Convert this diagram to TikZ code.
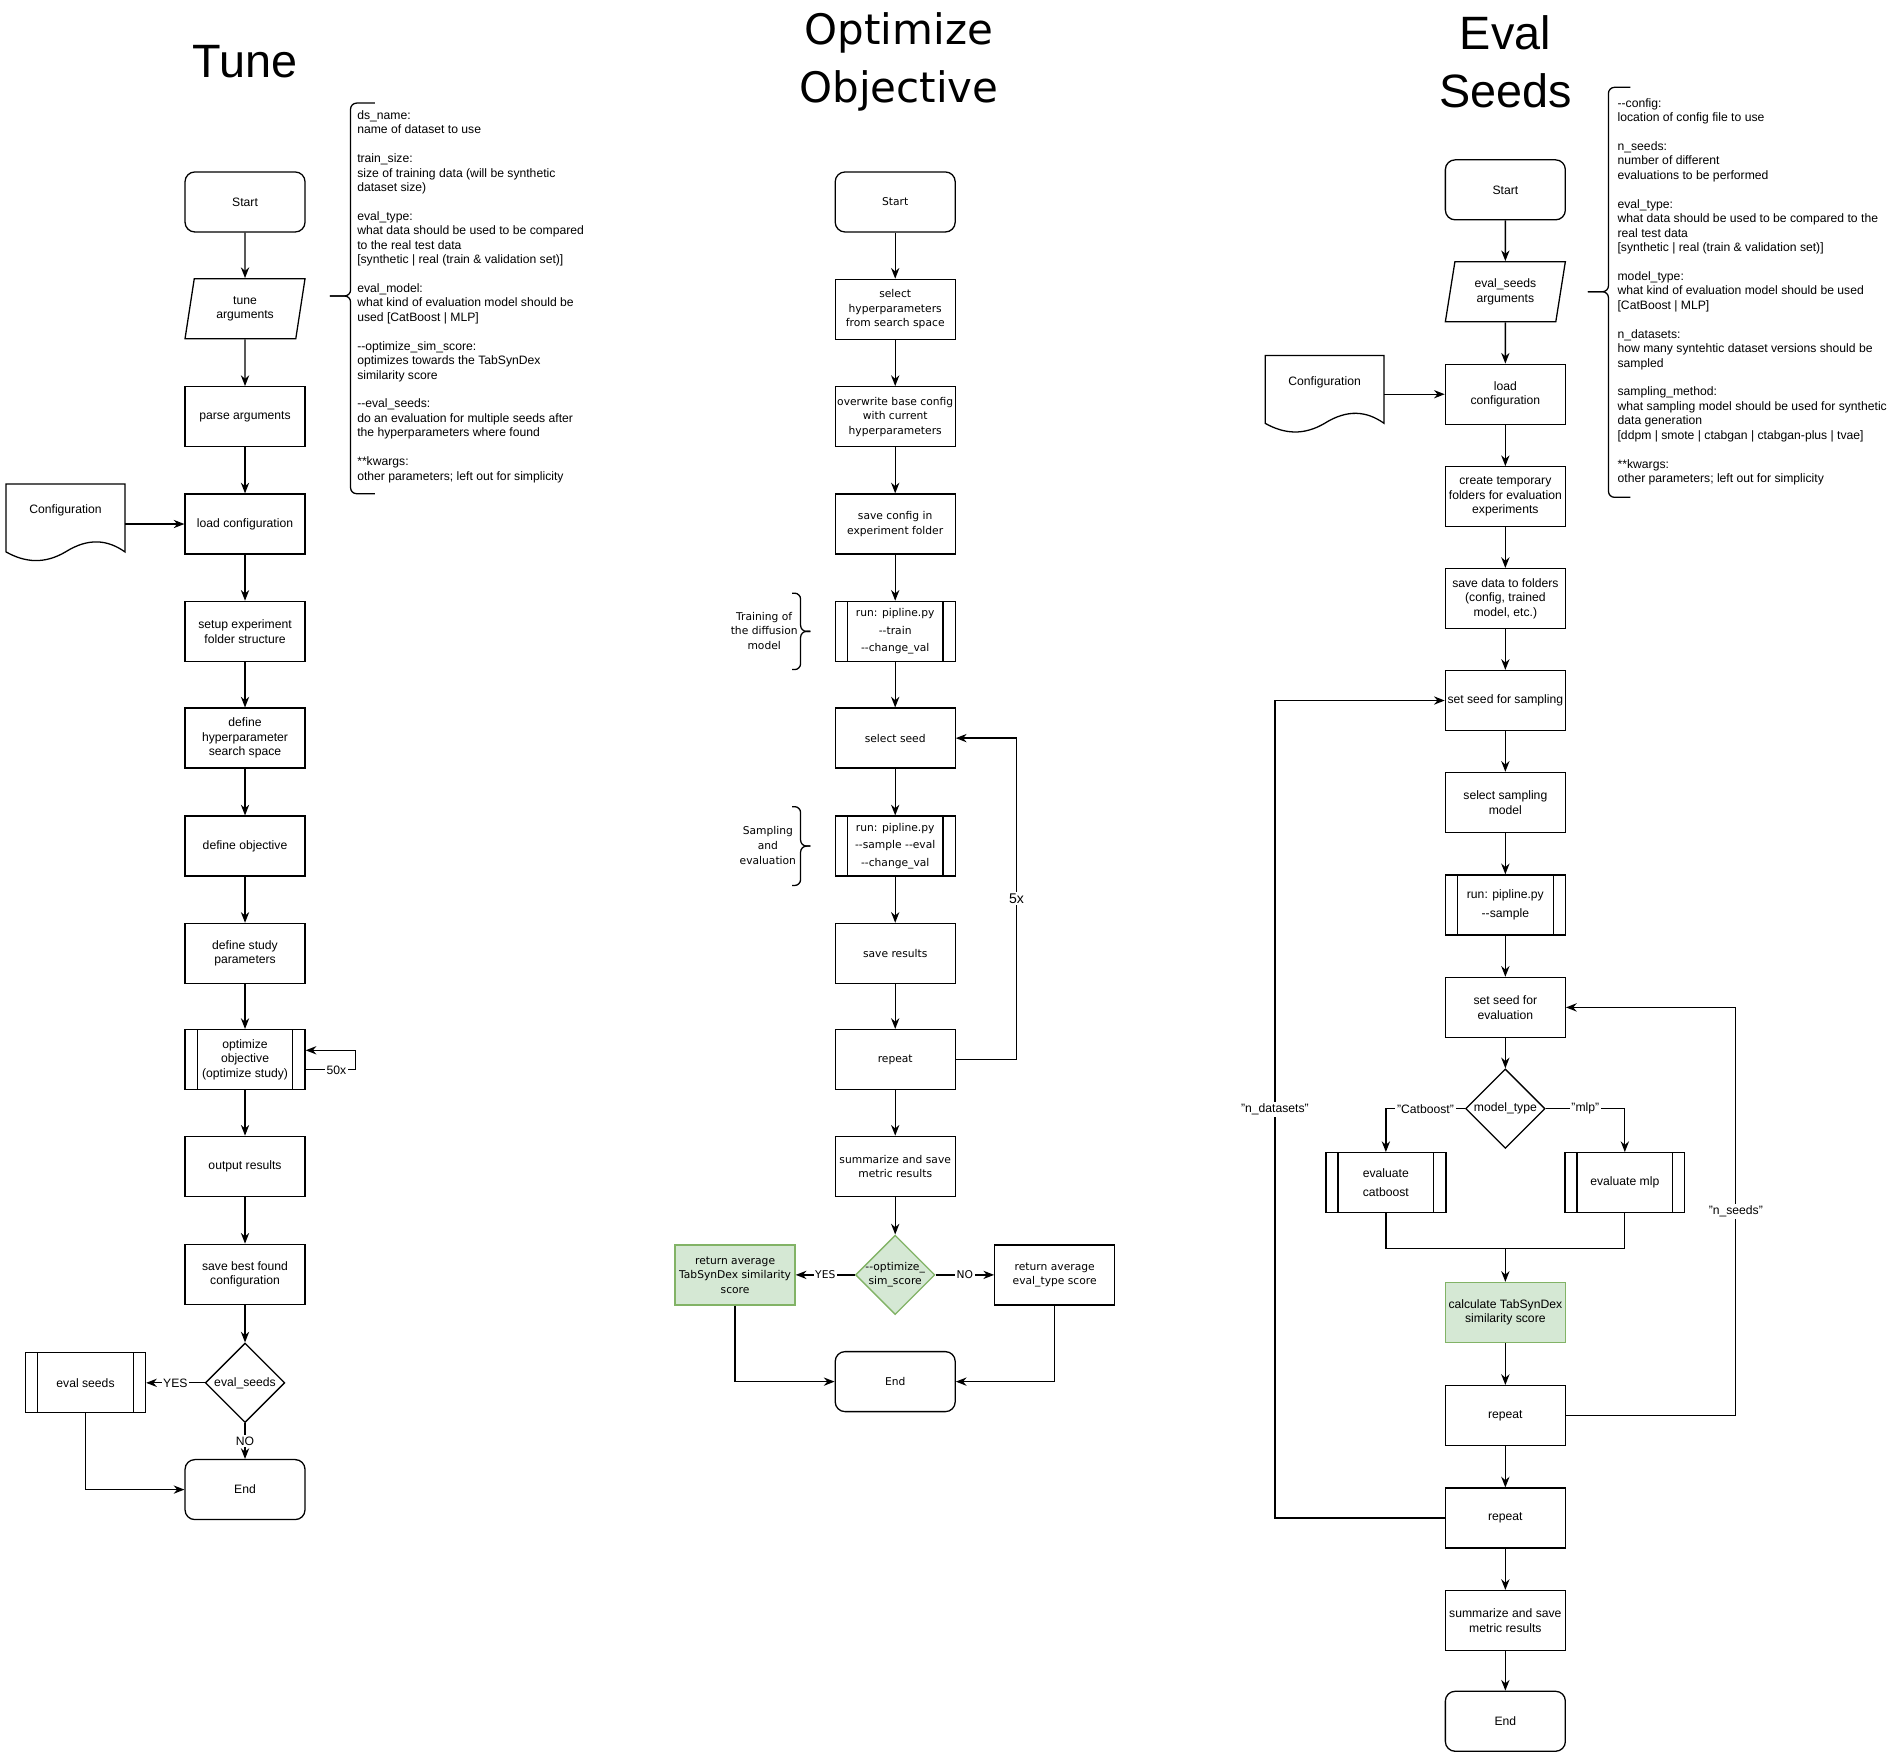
\documentclass[tikz,border=0pt]{standalone}
\usepackage{fontspec}
\setmainfont{Liberation Sans}
\newfontfamily\optfont{DejaVu Sans}
\usepackage{tikz}
\usetikzlibrary{shapes.geometric,arrows.meta}
\definecolor{dgreen}{HTML}{D5E8D4}
\definecolor{dgreenline}{HTML}{82B366}

% document shape, given by its top left corner
\newcommand\docshape[2]{%
  \draw[shift={(#1,#2)}] (0,0) -- (98,0) -- (98,56) .. controls (84,46) and (68,44) .. (49,56)
    .. controls (32,66) and (16,65) .. (0,56) -- cycle;}

\begin{document}
\begin{tikzpicture}[x=0.024875cm, y=-0.024875cm, line width=0.75pt,
    >={Stealth[length=2.2mm,width=1.7mm]},
    txt/.style={font=\fontsize{7.1}{8.5}\selectfont},
    mtxt/.style={font=\optfont\fontsize{6.25}{8.5}\selectfont},
    mrun/.style={font=\optfont\fontsize{6.25}{10.3}\selectfont},
    run/.style={font=\fontsize{7.1}{10.6}\selectfont},
    base/.style={draw, minimum width=2.46cm, minimum height=1.23cm, align=center, inner sep=1pt, txt},
    procbox/.style={base},
    termbox/.style={base, rounded corners=0.2cm},
    iobox/.style={base, trapezium, trapezium left angle=72, trapezium right angle=108, trapezium stretches body},
    subproc/.style={base, path picture={
        \draw ([xshift=0.25cm]path picture bounding box.north west) -- ([xshift=0.25cm]path picture bounding box.south west);
        \draw ([xshift=-0.25cm]path picture bounding box.north east) -- ([xshift=-0.25cm]path picture bounding box.south east);}},
    decision/.style={draw, diamond, minimum width=1.63cm, minimum height=1.63cm, inner sep=0pt, txt},
    greenbox/.style={fill=dgreen, draw=dgreenline},
    note/.style={align=left, anchor=west, inner sep=0pt, font=\fontsize{7.1}{8.42}\selectfont},
    lbl/.style={fill=white, inner sep=1pt, txt},
    curly/.style={rounded corners=3.5pt},
    title/.style={align=center, font=\fontsize{27.3}{34}\selectfont}]
\useasboundingbox (0,0) rectangle (1568,1450.5);

% ---------------- Tune
\node[title] (ttA) at (202,51) {Tune};
\node[termbox] (startA) at (202,166.5) {Start};
\node[iobox] (argA) at (202,254.5) {tune\\arguments};
\foreach \n/\y/\t in {paA/343.5/parse arguments, lcA/432/load configuration,
    sesA/520.5/{setup experiment\\folder structure}, dhA/608.5/{define\\hyperparameter\\search space},
    doA/697.5/define objective, dsA/786/{define study\\parameters}, orA/961.5/output results,
    sbA/1050.5/{save best found\\configuration}}
  \node[procbox] (\n) at (202,\y) {\t};
\node[subproc] (optA) at (202,873.5) {optimize\\objective\\(optimize study)};
\node[decision] (esA) at (202,1140) {eval\_seeds};
\node[subproc] (evsA) at (70.5,1140) {eval seeds};
\node[termbox] (endA) at (202,1228) {End};
\docshape{5}{399}
\node[txt] (cfgA) at (54,421) {Configuration};
\coordinate (cfgAr) at (103,432);

\foreach \a/\b in {startA/argA, argA/paA, paA/lcA, lcA/sesA, sesA/dhA, dhA/doA, doA/dsA, dsA/optA,
    optA/orA, orA/sbA, sbA/esA}
  \draw[->] (\a) -- (\b);
\draw[->] (cfgAr) -- (lcA);
\draw[->] ([yshift=-0.21cm]optA.east) -- ++(41,0) node[lbl, pos=0.62] {50x} |- ([yshift=0.19cm]optA.east);
\draw[->] (esA) -- node[lbl] {YES} (evsA);
\draw[->] (esA) -- node[lbl] {NO} (endA);
\draw[->] (evsA) |- (endA);

\draw[curly] (309,85) -- (289,85) -- (289,244) -- (272,244);
\draw[curly] (309,407) -- (289,407) -- (289,244) -- (272,244);
\node[note] (noteA) at (294,244.5) {ds\_name:\\name of dataset to use\\[\baselineskip]
  train\_size:\\size of training data (will be synthetic\\dataset size)\\[\baselineskip]
  eval\_type:\\what data should be used to be compared\\to the real test data\\
  {}[synthetic | real (train \& validation set)]\\[\baselineskip]
  eval\_model:\\what kind of evaluation model should be\\used [CatBoost | MLP]\\[\baselineskip]
  -{}-optimize\_sim\_score:\\optimizes towards the TabSynDex\\similarity score\\[\baselineskip]
  -{}-eval\_seeds:\\do an evaluation for multiple seeds after\\the hyperparameters where found\\[\baselineskip]
  **kwargs:\\other parameters; left out for simplicity};

% ---------------- Optimize Objective
\node[title, font=\optfont\fontsize{24.5}{34}\selectfont] (ttM) at (741,51) {Optimize\\Objective};
\node[termbox, mtxt] (startM) at (738,166.5) {Start};
\foreach \n/\y/\t in {shM/255/{select\\hyperparameters\\from search space},
    owM/343.5/{overwrite base config\\with current\\hyperparameters}, scM/432/{save config in\\experiment folder},
    ssM/608.5/select seed, srM/786/save results, rpM/873.5/repeat, sumM/961.5/{summarize and save\\metric results}}
  \node[procbox, mtxt] (\n) at (738,\y) {\t};
\node[subproc, mrun] (trM) at (738,520.5) {run: pipline.py\\-{}-train\\-{}-change\_val};
\node[subproc, mrun] (smM) at (738,697.5) {run: pipline.py\\-{}-sample -{}-eval\\-{}-change\_val};
\node[decision, greenbox] (osM) at (738,1051) {};
\node[mtxt, align=center] (osMt) at (osM) {-{}-optimize\_\\sim\_score};
\node[procbox, greenbox, mtxt] (rsM) at (606,1051) {return average\\TabSynDex similarity\\score};
\node[procbox, mtxt] (reM) at (869.5,1051) {return average\\eval\_type score};
\node[termbox, mtxt] (endM) at (738,1139) {End};

\foreach \a/\b in {startM/shM, shM/owM, owM/scM, scM/trM, trM/ssM, ssM/smM, smM/srM, srM/rpM,
    rpM/sumM, sumM/osM}
  \draw[->] (\a) -- (\b);
\draw[->] (rpM.east) -- ++(50,0) |- node[lbl, pos=0.25, font=\fontsize{8.2}{9}\selectfont] {5x} (ssM.east);
\draw[->] (osM) -- node[lbl, mtxt] {YES} (rsM);
\draw[->] (osM) -- node[lbl, mtxt] {NO} (reM);
\draw[->] (rsM) |- (endM);
\draw[->] (reM) |- (endM);

\draw[curly] (653,489) -- (660,489) -- (660,520.5) -- (668,520.5);
\draw[curly] (653,552) -- (660,552) -- (660,520.5) -- (668,520.5);
\node[mtxt, align=center] (brTr) at (630,520) {Training of\\the diffusion\\model};
\draw[curly] (653,665) -- (660,665) -- (660,697.5) -- (668,697.5);
\draw[curly] (653,730) -- (660,730) -- (660,697.5) -- (668,697.5);
\node[mtxt, align=center] (brSa) at (633,697) {Sampling\\and\\evaluation};

% ---------------- Eval Seeds
\node[title] (ttR) at (1241,51) {Eval\\Seeds};
\node[termbox] (startR) at (1241,156.5) {Start};
\node[iobox] (argR) at (1241,240.5) {eval\_seeds\\arguments};
\foreach \n/\y/\t in {lcR/325/{load\\configuration}, ctfR/409.5/{create temporary\\folders for evaluation\\experiments},
    sdR/493.5/{save data to folders\\(config, trained\\model, etc.)}, sssR/577.5/set seed for sampling,
    selR/661.5/{select sampling\\model}, sseR/830.5/{set seed for\\evaluation}, rp1R/1167/repeat,
    rp2R/1251.5/repeat, sumR/1336/{summarize and save\\metric results}}
  \node[procbox] (\n) at (1241,\y) {\t};
\node[subproc, run] (runR) at (1241,746) {run: pipline.py\\-{}-sample};
\node[decision] (mtR) at (1241,914) {model\_type};
\node[subproc, run] (ecR) at (1142.5,975) {evaluate\\catboost};
\node[subproc] (emR) at (1339.5,975) {evaluate mlp};
\node[procbox, greenbox] (calcR) at (1241,1082) {calculate TabSynDex\\similarity score};
\node[termbox] (endR) at (1241,1419) {End};
\docshape{1043}{293}
\node[txt] (cfgR) at (1092,315) {Configuration};
\coordinate (cfgRr) at (1141,325);
\coordinate (mgR) at (1241,1029);

\foreach \a/\b in {startR/argR, argR/lcR, lcR/ctfR, ctfR/sdR, sdR/sssR, sssR/selR, selR/runR, runR/sseR,
    sseR/mtR, calcR/rp1R, rp1R/rp2R, rp2R/sumR, sumR/endR}
  \draw[->] (\a) -- (\b);
\draw[->] (cfgRr) -- (lcR);
\draw[->] (mtR) -| node[lbl, pos=0.25] {"Catboost"} (ecR);
\draw[->] (mtR) -| node[lbl, pos=0.25] {"mlp"} (emR);
\draw (ecR) |- (mgR) -| (emR);
\draw[->] (mgR) -- (calcR);
\draw[->] (rp1R.east) -- ++(140,0) |- node[lbl, pos=0.25] {"n\_seeds"} (sseR.east);
\draw[->] (rp2R.west) -- ++(-140,0) |- node[lbl, pos=0.25] {"n\_datasets"} (sssR.west);

\draw[curly] (1344,72) -- (1326,72) -- (1326,240.5) -- (1309,240.5);
\draw[curly] (1344,410) -- (1326,410) -- (1326,240.5) -- (1309,240.5);
\node[note] (noteR) at (1333,240.5) {-{}-config:\\location of config file to use\\[\baselineskip]
  n\_seeds:\\number of different\\evaluations to be performed\\[\baselineskip]
  eval\_type:\\what data should be used to be compared to the\\real test data\\
  {}[synthetic | real (train \& validation set)]\\[\baselineskip]
  model\_type:\\what kind of evaluation model should be used\\
  {}[CatBoost | MLP]\\[\baselineskip]
  n\_datasets:\\how many syntehtic dataset versions should be\\sampled\\[\baselineskip]
  sampling\_method:\\what sampling model should be used for synthetic\\data generation\\
  {}[ddpm | smote | ctabgan | ctabgan-plus | tvae]\\[\baselineskip]
  **kwargs:\\other parameters; left out for simplicity};
\end{tikzpicture}
\end{document}
